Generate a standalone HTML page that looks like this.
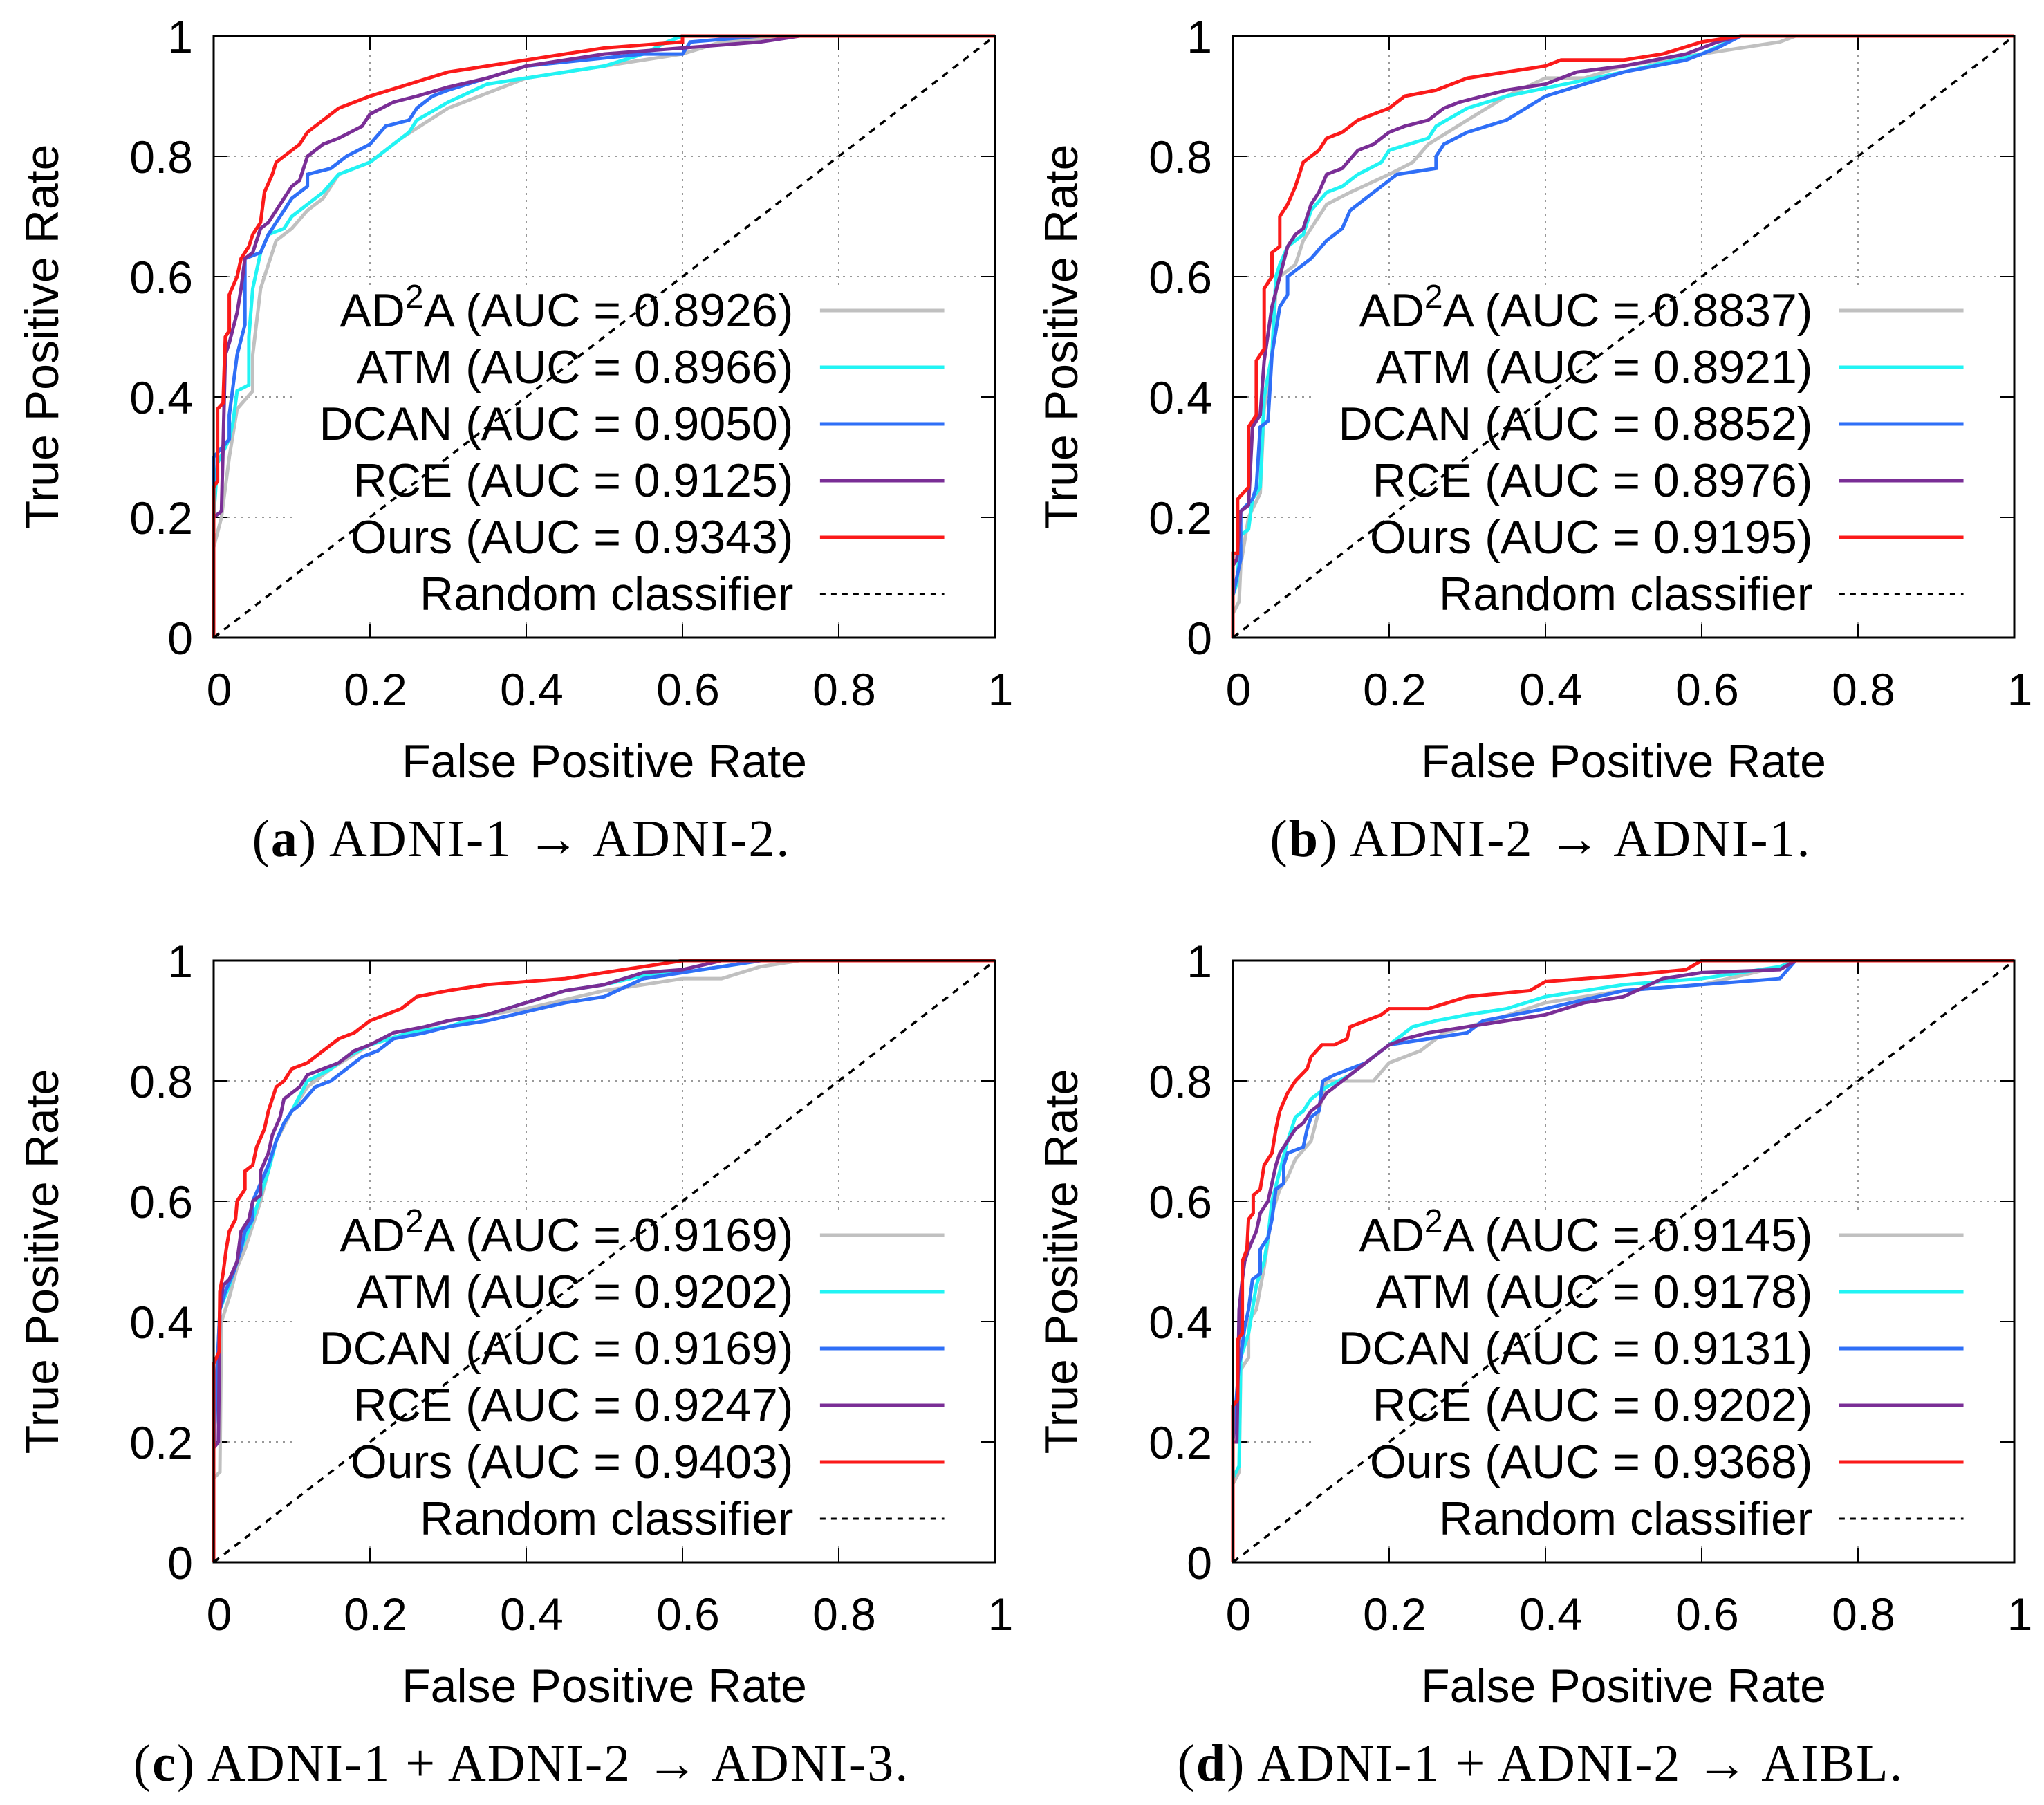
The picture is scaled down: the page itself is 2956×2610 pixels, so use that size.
<!DOCTYPE html>
<html><head><meta charset="utf-8">
<style>
html,body{margin:0;padding:0;background:#fff;}
svg{display:block;}
text{font-family:"Liberation Sans",sans-serif;fill:#000;}
.cap{font-family:"Liberation Serif",serif;}
</style></head>
<body>
<svg id="fig" width="2956" height="2610" viewBox="0 0 2956 2610" xmlns="http://www.w3.org/2000/svg"></svg>
<script>
const ticks = [0, 0.2, 0.4, 0.6, 0.8, 1];
const tickLabels = ["0", "0.2", "0.4", "0.6", "0.8", "1"];
const seriesNames = ["AD\u00b2A", "ATM", "DCAN", "RCE", "Ours"];
const seriesColors = ["#c0c0c0", "#22f4f4", "#2f6ff7", "#7a2e96", "#fb1a1a"];
const captionsBold = ["a", "b", "c", "d"];
const captionsText = [" ADNI-1 \u2192 ADNI-2.", " ADNI-2 \u2192 ADNI-1.", " ADNI-1 + ADNI-2 \u2192 ADNI-3.", " ADNI-1 + ADNI-2 \u2192 AIBL."];
const aucA = ["0.8926", "0.8966", "0.9050", "0.9125", "0.9343"];
const aucB = ["0.8837", "0.8921", "0.8852", "0.8976", "0.9195"];
const aucC = ["0.9169", "0.9202", "0.9169", "0.9247", "0.9403"];
const aucD = ["0.9145", "0.9178", "0.9131", "0.9202", "0.9368"];

const a_ad2a = [[0,0],[0,0.15],[0.01,0.2],[0.02,0.3],[0.03,0.38],[0.05,0.41],[0.05,0.47],[0.06,0.58],[0.07,0.62],[0.08,0.66],[0.1,0.68],[0.12,0.71],[0.14,0.73],[0.16,0.77],[0.2,0.79],[0.24,0.83],[0.3,0.88],[0.4,0.93],[0.5,0.95],[0.6,0.97],[0.65,0.99],[0.75,1],[1,1]];
const a_atm = [[0,0],[0,0.2],[0.005,0.29],[0.02,0.33],[0.025,0.36],[0.03,0.41],[0.045,0.42],[0.045,0.5],[0.05,0.58],[0.06,0.64],[0.07,0.67],[0.09,0.68],[0.1,0.7],[0.12,0.72],[0.14,0.74],[0.16,0.77],[0.2,0.79],[0.23,0.82],[0.25,0.84],[0.26,0.86],[0.3,0.89],[0.35,0.92],[0.4,0.93],[0.5,0.95],[0.55,0.97],[0.58,0.99],[0.6,1],[1,1]];
const a_dcan = [[0,0],[0,0.3],[0.02,0.33],[0.02,0.37],[0.03,0.47],[0.04,0.52],[0.04,0.63],[0.06,0.64],[0.07,0.67],[0.08,0.69],[0.1,0.73],[0.12,0.75],[0.12,0.77],[0.15,0.78],[0.17,0.8],[0.2,0.82],[0.22,0.85],[0.25,0.86],[0.26,0.88],[0.28,0.9],[0.3,0.91],[0.35,0.93],[0.4,0.95],[0.55,0.97],[0.6,0.97],[0.61,0.99],[0.7,1],[1,1]];
const a_rce = [[0,0],[0,0.2],[0.01,0.21],[0.015,0.47],[0.02,0.49],[0.03,0.54],[0.035,0.58],[0.04,0.63],[0.05,0.64],[0.06,0.68],[0.07,0.69],[0.08,0.71],[0.1,0.75],[0.11,0.76],[0.12,0.8],[0.14,0.82],[0.16,0.83],[0.19,0.85],[0.2,0.87],[0.23,0.89],[0.26,0.9],[0.3,0.915],[0.35,0.93],[0.4,0.95],[0.5,0.97],[0.6,0.98],[0.7,0.99],[0.75,1],[1,1]];
const a_ours = [[0,0],[0,0.25],[0.005,0.26],[0.005,0.38],[0.012,0.39],[0.015,0.5],[0.02,0.51],[0.02,0.57],[0.03,0.6],[0.035,0.63],[0.045,0.65],[0.05,0.67],[0.06,0.69],[0.065,0.74],[0.075,0.77],[0.08,0.79],[0.1,0.81],[0.11,0.82],[0.12,0.84],[0.14,0.86],[0.16,0.88],[0.2,0.9],[0.25,0.92],[0.3,0.94],[0.35,0.95],[0.4,0.96],[0.5,0.98],[0.6,0.99],[0.6,1],[1,1]];

const b_ad2a = [[0,0],[0,0.04],[0.008,0.06],[0.01,0.12],[0.02,0.2],[0.035,0.24],[0.04,0.38],[0.05,0.47],[0.055,0.58],[0.06,0.6],[0.08,0.62],[0.09,0.66],[0.1,0.68],[0.12,0.72],[0.15,0.74],[0.2,0.77],[0.23,0.79],[0.25,0.82],[0.3,0.86],[0.35,0.9],[0.4,0.93],[0.45,0.93],[0.5,0.95],[0.6,0.97],[0.7,0.99],[0.72,1],[1,1]];
const b_atm = [[0,0],[0,0.07],[0.005,0.09],[0.01,0.17],[0.02,0.18],[0.025,0.23],[0.035,0.25],[0.04,0.4],[0.05,0.47],[0.055,0.6],[0.06,0.62],[0.07,0.65],[0.09,0.67],[0.1,0.71],[0.12,0.74],[0.14,0.75],[0.16,0.77],[0.19,0.79],[0.2,0.81],[0.25,0.83],[0.26,0.85],[0.3,0.88],[0.35,0.9],[0.5,0.94],[0.6,0.97],[0.65,1],[1,1]];
const b_dcan = [[0,0],[0,0.07],[0.01,0.13],[0.01,0.21],[0.025,0.23],[0.03,0.25],[0.035,0.35],[0.045,0.36],[0.05,0.47],[0.06,0.55],[0.07,0.57],[0.07,0.6],[0.08,0.61],[0.1,0.63],[0.12,0.66],[0.14,0.68],[0.15,0.71],[0.17,0.73],[0.2,0.76],[0.21,0.77],[0.26,0.78],[0.26,0.8],[0.27,0.82],[0.3,0.84],[0.35,0.86],[0.4,0.9],[0.5,0.94],[0.58,0.96],[0.6,0.97],[0.62,0.98],[0.65,1],[1,1]];
const b_rce = [[0,0],[0,0.12],[0.005,0.13],[0.01,0.21],[0.02,0.22],[0.025,0.35],[0.035,0.37],[0.04,0.46],[0.05,0.55],[0.06,0.6],[0.07,0.65],[0.08,0.67],[0.09,0.68],[0.1,0.72],[0.11,0.74],[0.12,0.77],[0.14,0.78],[0.16,0.81],[0.18,0.82],[0.2,0.84],[0.22,0.85],[0.25,0.86],[0.27,0.88],[0.29,0.89],[0.32,0.9],[0.35,0.91],[0.4,0.92],[0.44,0.94],[0.5,0.95],[0.58,0.97],[0.62,0.99],[0.65,1],[1,1]];
const b_ours = [[0,0],[0,0.14],[0.006,0.14],[0.006,0.23],[0.02,0.25],[0.02,0.35],[0.03,0.37],[0.03,0.46],[0.04,0.48],[0.04,0.58],[0.05,0.6],[0.05,0.64],[0.06,0.65],[0.06,0.7],[0.07,0.72],[0.08,0.75],[0.09,0.79],[0.1,0.8],[0.11,0.81],[0.12,0.83],[0.14,0.84],[0.16,0.86],[0.18,0.87],[0.2,0.88],[0.22,0.9],[0.26,0.91],[0.3,0.93],[0.35,0.94],[0.4,0.95],[0.42,0.96],[0.5,0.96],[0.55,0.97],[0.6,0.99],[0.65,1],[1,1]];

const c_ad2a = [[0,0],[0,0.14],[0.008,0.15],[0.01,0.4],[0.02,0.44],[0.03,0.49],[0.04,0.52],[0.05,0.56],[0.06,0.6],[0.07,0.65],[0.08,0.7],[0.1,0.75],[0.12,0.79],[0.15,0.82],[0.2,0.86],[0.25,0.88],[0.3,0.9],[0.4,0.92],[0.5,0.95],[0.6,0.97],[0.65,0.97],[0.7,0.99],[0.75,1],[1,1]];
const c_atm = [[0,0],[0,0.19],[0.008,0.42],[0.02,0.46],[0.035,0.52],[0.05,0.57],[0.07,0.65],[0.08,0.7],[0.09,0.73],[0.1,0.75],[0.12,0.8],[0.15,0.82],[0.17,0.84],[0.2,0.86],[0.25,0.88],[0.3,0.89],[0.35,0.91],[0.4,0.93],[0.45,0.95],[0.5,0.96],[0.55,0.975],[0.6,0.98],[0.65,0.99],[0.7,1],[1,1]];
const c_dcan = [[0,0],[0,0.19],[0.008,0.42],[0.015,0.45],[0.025,0.48],[0.035,0.52],[0.04,0.55],[0.05,0.57],[0.05,0.6],[0.07,0.66],[0.08,0.7],[0.09,0.73],[0.1,0.75],[0.11,0.76],[0.13,0.79],[0.15,0.8],[0.17,0.82],[0.19,0.84],[0.21,0.85],[0.23,0.87],[0.27,0.88],[0.3,0.89],[0.35,0.9],[0.4,0.915],[0.45,0.93],[0.5,0.94],[0.55,0.97],[0.6,0.98],[0.65,0.99],[0.7,1],[1,1]];
const c_rce = [[0,0],[0,0.19],[0.006,0.2],[0.008,0.42],[0.012,0.46],[0.02,0.47],[0.03,0.5],[0.035,0.55],[0.045,0.57],[0.05,0.6],[0.06,0.61],[0.06,0.65],[0.07,0.68],[0.075,0.71],[0.085,0.74],[0.09,0.77],[0.1,0.78],[0.11,0.79],[0.12,0.81],[0.14,0.82],[0.16,0.83],[0.18,0.85],[0.2,0.86],[0.23,0.88],[0.27,0.89],[0.3,0.9],[0.35,0.91],[0.4,0.93],[0.45,0.95],[0.5,0.96],[0.55,0.98],[0.6,0.985],[0.65,1],[1,1]];
const c_ours = [[0,0],[0,0.33],[0.007,0.35],[0.008,0.45],[0.012,0.48],[0.016,0.52],[0.02,0.55],[0.028,0.57],[0.03,0.6],[0.04,0.62],[0.04,0.65],[0.05,0.66],[0.055,0.69],[0.065,0.72],[0.07,0.75],[0.08,0.79],[0.09,0.8],[0.1,0.82],[0.12,0.83],[0.14,0.85],[0.16,0.87],[0.18,0.88],[0.2,0.9],[0.22,0.91],[0.24,0.92],[0.26,0.94],[0.3,0.95],[0.35,0.96],[0.45,0.97],[0.5,0.98],[0.55,0.99],[0.6,1],[1,1]];

const d_ad2a = [[0,0],[0,0.13],[0.008,0.15],[0.01,0.32],[0.02,0.34],[0.02,0.4],[0.03,0.42],[0.04,0.49],[0.05,0.58],[0.06,0.62],[0.07,0.64],[0.08,0.67],[0.1,0.7],[0.12,0.8],[0.15,0.8],[0.18,0.8],[0.2,0.83],[0.24,0.85],[0.27,0.88],[0.3,0.89],[0.33,0.9],[0.4,0.93],[0.5,0.95],[0.6,0.96],[0.7,0.99],[0.72,1],[1,1]];
const d_atm = [[0,0],[0,0.14],[0.008,0.16],[0.01,0.34],[0.02,0.38],[0.025,0.42],[0.03,0.46],[0.04,0.5],[0.045,0.54],[0.05,0.6],[0.06,0.65],[0.07,0.7],[0.08,0.74],[0.09,0.75],[0.1,0.77],[0.12,0.79],[0.15,0.81],[0.18,0.84],[0.2,0.86],[0.23,0.89],[0.26,0.9],[0.3,0.91],[0.35,0.92],[0.4,0.94],[0.5,0.96],[0.6,0.97],[0.7,0.99],[0.72,1],[1,1]];
const d_dcan = [[0,0],[0,0.2],[0.008,0.33],[0.01,0.34],[0.015,0.39],[0.02,0.42],[0.025,0.47],[0.035,0.48],[0.035,0.52],[0.045,0.54],[0.05,0.57],[0.055,0.62],[0.065,0.63],[0.065,0.66],[0.07,0.68],[0.09,0.69],[0.095,0.72],[0.1,0.74],[0.11,0.75],[0.115,0.8],[0.13,0.81],[0.15,0.82],[0.17,0.83],[0.2,0.86],[0.25,0.87],[0.3,0.88],[0.32,0.9],[0.4,0.92],[0.5,0.95],[0.6,0.96],[0.7,0.97],[0.72,1],[1,1]];
const d_rce = [[0,0],[0,0.2],[0.005,0.2],[0.008,0.42],[0.012,0.47],[0.015,0.5],[0.02,0.52],[0.03,0.55],[0.035,0.58],[0.045,0.6],[0.05,0.63],[0.055,0.66],[0.06,0.68],[0.07,0.7],[0.08,0.72],[0.09,0.73],[0.1,0.75],[0.11,0.76],[0.12,0.78],[0.14,0.8],[0.16,0.82],[0.18,0.84],[0.2,0.86],[0.22,0.87],[0.25,0.88],[0.3,0.89],[0.35,0.9],[0.4,0.91],[0.45,0.93],[0.5,0.94],[0.55,0.97],[0.6,0.98],[0.7,0.985],[0.72,1],[1,1]];
const d_ours = [[0,0],[0,0.26],[0.006,0.27],[0.006,0.37],[0.012,0.38],[0.012,0.5],[0.018,0.52],[0.02,0.57],[0.026,0.58],[0.026,0.61],[0.035,0.62],[0.04,0.66],[0.05,0.68],[0.055,0.72],[0.06,0.75],[0.07,0.78],[0.08,0.8],[0.095,0.82],[0.1,0.84],[0.114,0.86],[0.13,0.86],[0.146,0.87],[0.15,0.89],[0.17,0.9],[0.19,0.91],[0.2,0.92],[0.25,0.92],[0.3,0.94],[0.38,0.95],[0.4,0.965],[0.5,0.975],[0.58,0.985],[0.6,1],[1,1]];

const panelSeries = [
  [a_ad2a, a_atm, a_dcan, a_rce, a_ours],
  [b_ad2a, b_atm, b_dcan, b_rce, b_ours],
  [c_ad2a, c_atm, c_dcan, c_rce, c_ours],
  [d_ad2a, d_atm, d_dcan, d_rce, d_ours]
];
const panelAuc = [aucA, aucB, aucC, aucD];

const NS = "http://www.w3.org/2000/svg";
const svg = document.getElementById("fig");
function mk(tag, attrs, parent) {
  const e = document.createElementNS(NS, tag);
  for (const k in attrs) e.setAttribute(k, attrs[k]);
  parent.appendChild(e);
  return e;
}
const W = 1130, H = 870;
const origins = [[309, 52], [1783, 52], [309, 1389], [1783, 1389]];

origins.forEach(function (o, p) {
  const ox = o[0], oy = o[1];
  const sx = v => ox + v * W;
  const sy = v => oy + H - v * H;
  const g = mk("g", {}, svg);
  
  

  ticks.forEach(function (t, i) {
    if (i > 0 && i < ticks.length - 1) {
      const gl = mk("line", {x1: sx(0), x2: sx(1), y1: sy(t), y2: sy(t), stroke: "#999", "stroke-width": 2, "stroke-dasharray": "3,7"}, g);
      
      
      const gv = mk("line", {x1: sx(t), x2: sx(t), y1: sy(0), y2: sy(1), stroke: "#999", "stroke-width": 2, "stroke-dasharray": "3,7"}, g);
      
      
    }
  });
  const lb = mk("rect", {x: sx(0.1), y: sy(0.58), width: sx(0.995) - sx(0.1), height: sy(0.03) - sy(0.58), fill: "#fff"}, g);
  
  

  ticks.forEach(function (t, i) {
    mk("line", {x1: sx(0), x2: sx(0) + 20, y1: sy(t), y2: sy(t), stroke: "#000", "stroke-width": 2}, g);
    mk("line", {x1: sx(1), x2: sx(1) - 20, y1: sy(t), y2: sy(t), stroke: "#000", "stroke-width": 2}, g);
    mk("line", {x1: sx(t), x2: sx(t), y1: sy(0), y2: sy(0) - 20, stroke: "#000", "stroke-width": 2}, g);
    mk("line", {x1: sx(t), x2: sx(t), y1: sy(1), y2: sy(1) + 20, stroke: "#000", "stroke-width": 2}, g);
    const yl = mk("text", {x: sx(0) - 30, y: sy(t) + 24, "font-size": 66, "text-anchor": "end"}, g);
    yl.textContent = tickLabels[i];
    
    
    const xl = mk("text", {x: sx(t) + 8, y: sy(0) + 98, "font-size": 66, "text-anchor": "middle"}, g);
    xl.textContent = tickLabels[i];
    
    
  });

  panelSeries[p].forEach(function (ser, s) {
    const pts = ser.map(d => sx(d[0]).toFixed(1) + "," + sy(d[1]).toFixed(1)).join(" ");
    const pl = mk("polyline", {points: pts, fill: "none", stroke: seriesColors[s], "stroke-width": 5, "stroke-linejoin": "miter"}, g);
    
    
  });
  const dg = mk("line", {x1: sx(0), y1: sy(0), x2: sx(1), y2: sy(1), stroke: "#000", "stroke-width": 3.5, "stroke-dasharray": "10,9"}, g);
  
  

  const fr = mk("rect", {x: sx(0), y: sy(1), width: W, height: H, fill: "none", stroke: "#000", "stroke-width": 3}, g);
  
  

  const rowY0 = sy(1) + 397, step = 82;
  const tx = sx(0.742), lx1 = sx(0.776), lx2 = sx(0.935);
  for (let s = 0; s < 6; s++) {
    const y = rowY0 + s * step;
    const t = mk("text", {x: tx, y: y + 23, "font-size": 68, "text-anchor": "end"}, g);
    
    
    if (s === 0) {
      const t1 = mk("tspan", {}, t); t1.textContent = "AD";
      const t2 = mk("tspan", {dy: -27, "font-size": 48}, t); t2.textContent = "2";
      const t3 = mk("tspan", {dy: 27}, t); t3.textContent = "A (AUC = " + panelAuc[p][0] + ")";
    } else if (s < 5) {
      t.textContent = seriesNames[s] + " (AUC = " + panelAuc[p][s] + ")";
    } else {
      t.textContent = "Random classifier";
    }
    const ln = mk("line", {x1: lx1, x2: lx2, y1: y, y2: y,
      stroke: s < 5 ? seriesColors[s] : "#000", "stroke-width": s < 5 ? 5 : 3,
      "stroke-dasharray": s < 5 ? "none" : "8,8"}, g);
    
    
  }

  const xt = mk("text", {x: sx(0.5), y: sy(0) + 202, "font-size": 68, "text-anchor": "middle"}, g);
  xt.textContent = "False Positive Rate";
  
  
  const ytx = ox - 225, yty = oy + H * 0.5;
  const yt = mk("text", {x: ytx, y: yty, "font-size": 68, "text-anchor": "middle", transform: "rotate(-90 " + ytx + " " + yty + ")"}, g);
  yt.textContent = "True Positive Rate";
  
  

  const cp = mk("text", {x: ox + 445, y: sy(0) + 316, "font-size": 76, "text-anchor": "middle", class: "cap", "letter-spacing": 2}, g);
  
  
  const c1 = mk("tspan", {}, cp); c1.textContent = "(";
  const c2 = mk("tspan", {"font-weight": "bold"}, cp); c2.textContent = captionsBold[p];
  const c3 = mk("tspan", {}, cp); c3.textContent = ")" + captionsText[p];
});
</script>
</body></html>
